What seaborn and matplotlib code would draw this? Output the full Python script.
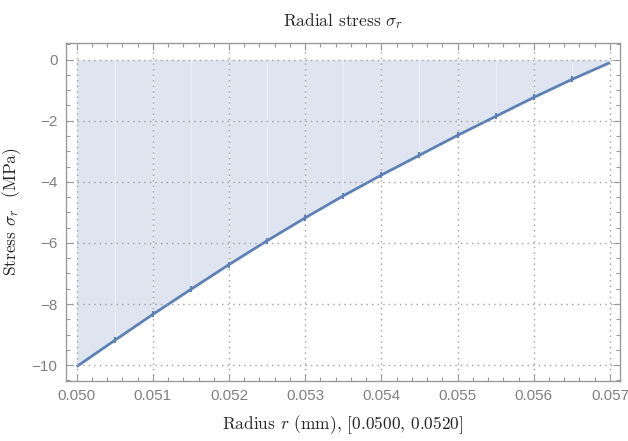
import numpy as np
import pandas as pd
import matplotlib
matplotlib.use("Agg")
import matplotlib.pyplot as plt
import seaborn as sns
from matplotlib.ticker import MultipleLocator, FormatStrFormatter, FuncFormatter

# Data
radius = [0.0500, 0.0505, 0.0510, 0.0515, 0.0520, 0.0525, 0.0530, 0.0535,
          0.0540, 0.0545, 0.0550, 0.0555, 0.0560, 0.0565, 0.0570]
stress = [-10.05, -9.19, -8.34, -7.52, -6.71, -5.93, -5.18, -4.46,
          -3.78, -3.13, -2.48, -1.86, -1.24, -0.65, -0.10]
title_text = r"Radial stress $\sigma_r$"
xlabel_text = r"Radius $r$ (mm), [0.0500, 0.0520]"
ylabel_text = r"Stress $\sigma_r$  (MPa)"

sns.set_style("white")
plt.rcParams["mathtext.fontset"] = "cm"
plt.rcParams["font.family"] = ["Liberation Sans", "DejaVu Sans"]

line_color = "#5E81B5"
gray = "#808080"

fig = plt.figure(figsize=(6.28, 4.41), dpi=100)
ax = fig.add_axes([0.105, 0.136, 0.882, 0.767])

df = pd.DataFrame({"r": radius, "s": stress})

# fill per segment, with faint seams between pieces
for i in range(len(radius) - 1):
    seg = df.iloc[i:i + 2]
    ax.fill_between(seg["r"], seg["s"], 0, color=line_color, alpha=0.2,
                    linewidth=0)
    sns.lineplot(data=seg, x="r", y="s", ax=ax, color=line_color,
                 linewidth=2.0, solid_capstyle="butt")
for r, s in zip(radius[1:-1], stress[1:-1]):
    ax.plot([r, r], [s, 0], color="white", alpha=0.35, linewidth=0.8, zorder=1)

sns.scatterplot(data=df.iloc[1:-1], x="r", y="s", ax=ax, marker="|",
                s=18, color=line_color, linewidth=1.5, zorder=5)

ax.set_xlim(0.04986, 0.05713)
ax.set_ylim(-10.52, 0.55)

ax.xaxis.set_major_locator(MultipleLocator(0.001))
ax.xaxis.set_minor_locator(MultipleLocator(0.0002))
ax.yaxis.set_major_locator(MultipleLocator(2))
ax.yaxis.set_minor_locator(MultipleLocator(0.5))
ax.xaxis.set_major_formatter(FormatStrFormatter("%.3f"))
ax.yaxis.set_major_formatter(FuncFormatter(lambda v, p: f"{int(round(v))}".replace("-", "\u2212")))

ax.grid(True, which="major", linestyle=(0, (1, 3)), color="#a0a0a0",
        linewidth=1.0)
ax.set_axisbelow(False)

for sp in ax.spines.values():
    sp.set_visible(True)
    sp.set_color("#999999")
    sp.set_linewidth(1.0)

ax.tick_params(which="both", direction="in", top=True, right=True,
               bottom=True, left=True, color="#999999", labelcolor=gray,
               labelsize=11, width=0.8)
ax.tick_params(which="major", length=5, pad=6)
ax.tick_params(which="minor", length=3)

ax.set_title(title_text, fontfamily="cmr10", fontsize=12.5, pad=12)
ax.set_xlabel(xlabel_text, fontfamily="cmr10", fontsize=12.5, labelpad=7)
ax.set_ylabel(ylabel_text, fontfamily="cmr10", fontsize=12.5, labelpad=6)

fig.savefig("out.png", dpi=100)
